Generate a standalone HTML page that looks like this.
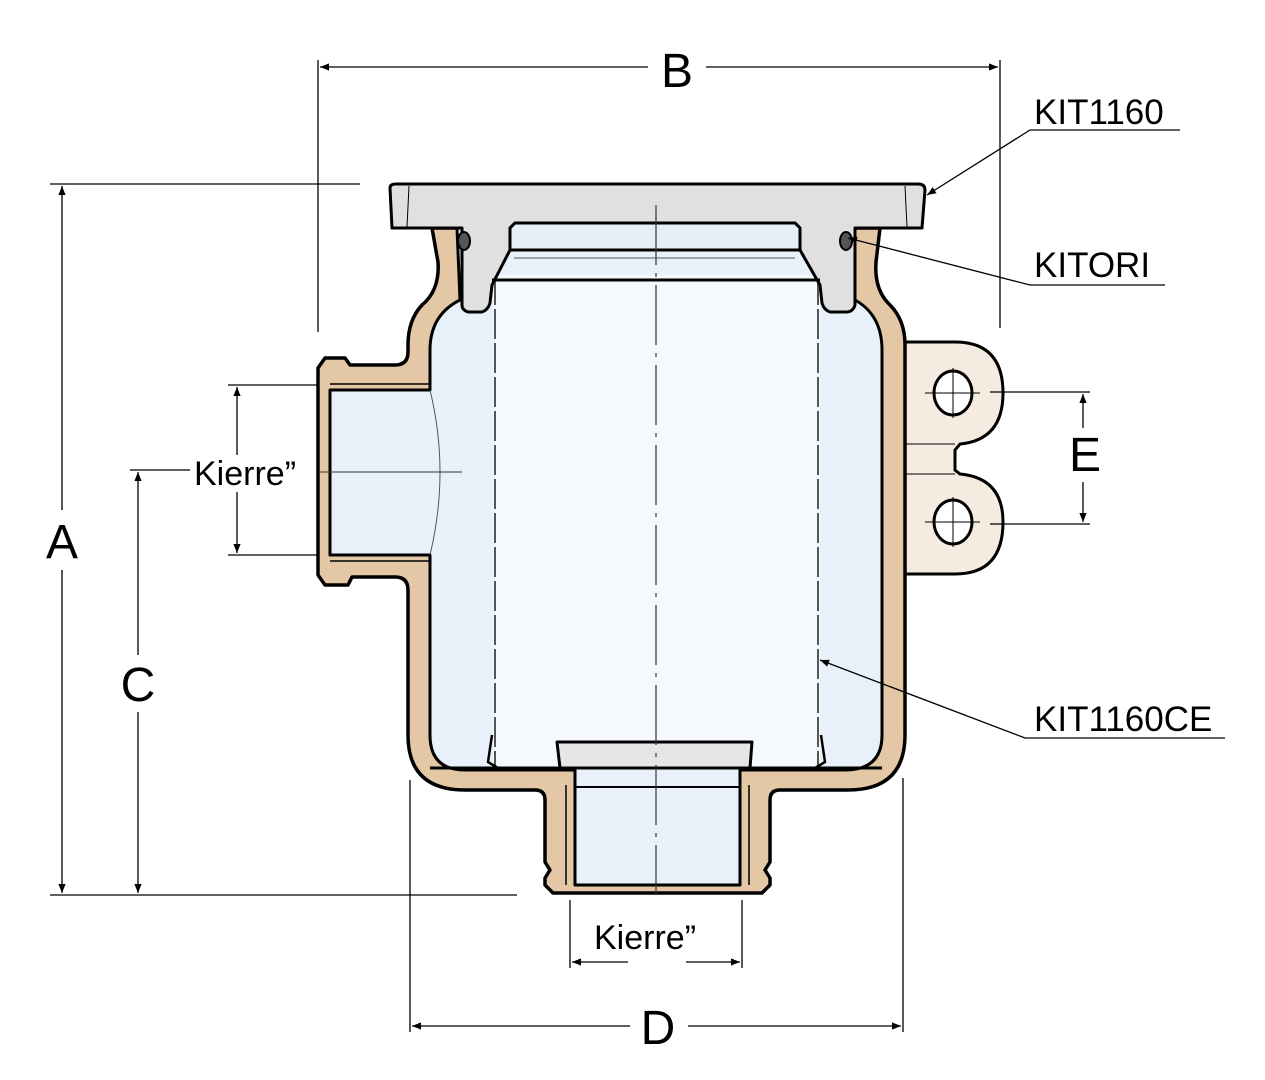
<!DOCTYPE html>
<html><head><style>body{margin:0;background:#fff}svg{display:block}</style></head><body>
<svg width="1265" height="1080" viewBox="0 0 1265 1080" xmlns="http://www.w3.org/2000/svg" font-family="Liberation Sans, sans-serif">
<defs>
<marker id="ar" viewBox="0 0 10 10" refX="10" refY="5" markerWidth="16" markerHeight="9" orient="auto-start-reverse" markerUnits="userSpaceOnUse"><path d="M0,1 L10,5 L0,9 Z" fill="#000"/></marker>
</defs>
<!-- ears -->
<path d="M905,342 L955,342 Q1003,342 1003,393 Q1003,440 960,444 L955,450 L955,470 L960,474 Q1003,478 1003,522 Q1003,574 955,574 L905,574 Z" fill="#f6ebe0" stroke="#000" stroke-width="3"/>
<line x1="905" y1="444" x2="955" y2="444" stroke="#000" stroke-width="1"/>
<line x1="905" y1="474" x2="955" y2="474" stroke="#000" stroke-width="1"/>
<ellipse cx="953" cy="393" rx="19" ry="22" fill="#fff" stroke="#000" stroke-width="3"/>
<ellipse cx="953" cy="522" rx="19" ry="22" fill="#fff" stroke="#000" stroke-width="3"/>
<path d="M925,393H980M953,368V418M925,522H980M953,497V547" stroke="#000" stroke-width="1"/>
<!-- body outer -->
<path d="M432,228 L457,228 L460,228 L855,228 L880,228 L876,262 Q874,290 890,305 Q905,320 905,345 L905,735 Q905,790 848,790 L780,790 Q770,790 770,800 L770,862 L765,870 L770,878 L770,885 L762,893 L553,893 L545,885 L545,878 L550,870 L545,862 L545,800 Q545,790 535,790 L465,790 Q408,790 408,735 L408,590 Q408,577 395,577 L352,577 L348,585 L325,585 L318,575 L318,368 L325,358 L345,358 L350,365 L395,365 Q408,365 408,352 L408,345 Q408,320 422,305 Q440,290 438,262 Z" fill="#e4c8a6" stroke="#000" stroke-width="3.5" stroke-linejoin="round"/>
<!-- inner cavity -->
<path d="M457,228 L855,228 L855,300 Q882,315 882,350 L882,735 Q882,770 845,770 L740,770 L740,885 L575,885 L575,770 L465,770 Q430,770 430,735 L430,555 L330,555 L330,390 L430,390 L430,350 Q430,315 460,300 Z" fill="#e8f1f9" stroke="#000" stroke-width="3" stroke-linejoin="round"/>
<path d="M430,390 Q450,472 430,555" fill="none" stroke="#555" stroke-width="1"/>
<line x1="330" y1="384" x2="430" y2="384" stroke="#000" stroke-width="1.5"/>
<line x1="330" y1="561" x2="430" y2="561" stroke="#000" stroke-width="1.5"/>
<line x1="566" y1="785" x2="566" y2="885" stroke="#000" stroke-width="1.5"/>
<line x1="749" y1="785" x2="749" y2="885" stroke="#000" stroke-width="1.5"/>
<line x1="575" y1="787" x2="740" y2="787" stroke="#000" stroke-width="2"/>
<!-- cartridge -->
<rect x="493" y="275" width="327" height="493" fill="#f5f9fd"/>
<line x1="495" y1="275" x2="495" y2="765" stroke="#555" stroke-width="2" stroke-dasharray="30 4"/>
<line x1="818" y1="275" x2="818" y2="765" stroke="#555" stroke-width="2" stroke-dasharray="30 4"/>
<path d="M492,735 L488,762 L498,768 M821,735 L825,762 L815,768" fill="none" stroke="#000" stroke-width="2.5"/>
<line x1="430" y1="768" x2="882" y2="768" stroke="#000" stroke-width="3"/>
<path d="M560,768 L557,742 L752,742 L750,768 Z" fill="#e6e6e6" stroke="#000" stroke-width="3" stroke-linejoin="round"/>
<!-- lid -->
<path d="M390,188 Q390,184 396,184 L918,184 Q925,184 925,190 L922,228 L855,228 L855,305 Q853,312 846,312 L830,312 Q824,310 822,303 L820,285 L800,250 L800,228 L795,223 L515,223 L510,228 L510,250 L492,285 L490,303 Q488,310 482,312 L468,312 Q462,310 462,305 L462,228 L392,228 Z" fill="#e0e0e0" stroke="#000" stroke-width="3" stroke-linejoin="round"/>
<path d="M409,186 L407,227 M905,186 L907,227" stroke="#000" stroke-width="1"/>
<path d="M510,228 L510,250 L800,250 L800,228 L795,223 L515,223 Z" fill="#e6eff8" stroke="#000" stroke-width="3" stroke-linejoin="round"/>
<line x1="514" y1="258" x2="795" y2="258" stroke="#555" stroke-width="1"/>
<line x1="492" y1="280" x2="820" y2="280" stroke="#000" stroke-width="3"/>
<ellipse cx="464" cy="241" rx="6" ry="9" fill="#555" stroke="#000" stroke-width="2"/>
<ellipse cx="846" cy="241" rx="6" ry="9" fill="#555" stroke="#000" stroke-width="2"/>
<!-- center line -->
<line x1="656" y1="205" x2="656" y2="895" stroke="#333" stroke-width="1.2" stroke-dasharray="60 8 4 8"/>
<line x1="320" y1="472" x2="462" y2="472" stroke="#333" stroke-width="1"/>
<!-- dimension lines -->
<g stroke="#000" stroke-width="1.3" fill="none">
<line x1="318" y1="60" x2="318" y2="332"/><line x1="1000" y1="60" x2="1000" y2="328"/>
<line x1="320" y1="67" x2="648" y2="67" marker-start="url(#ar)"/><line x1="706" y1="67" x2="998" y2="67" marker-end="url(#ar)"/>
<line x1="50" y1="184" x2="360" y2="184"/><line x1="50" y1="895" x2="517" y2="895"/>
<line x1="62" y1="186" x2="62" y2="510" marker-start="url(#ar)"/><line x1="62" y1="570" x2="62" y2="893" marker-end="url(#ar)"/>
<line x1="130" y1="470" x2="190" y2="470"/>
<line x1="138" y1="472" x2="138" y2="655" marker-start="url(#ar)"/><line x1="138" y1="712" x2="138" y2="893" marker-end="url(#ar)"/>
<line x1="228" y1="385" x2="318" y2="385"/><line x1="228" y1="555" x2="318" y2="555"/>
<line x1="237" y1="387" x2="237" y2="455" marker-start="url(#ar)"/><line x1="237" y1="492" x2="237" y2="553" marker-end="url(#ar)"/>
<line x1="990" y1="392" x2="1090" y2="392"/><line x1="990" y1="524" x2="1090" y2="524"/>
<line x1="1083" y1="394" x2="1083" y2="428" marker-start="url(#ar)"/><line x1="1083" y1="482" x2="1083" y2="522" marker-end="url(#ar)"/>
<line x1="410" y1="780" x2="410" y2="1032"/><line x1="903" y1="778" x2="903" y2="1032"/>
<line x1="412" y1="1026" x2="630" y2="1026" marker-start="url(#ar)"/><line x1="688" y1="1026" x2="901" y2="1026" marker-end="url(#ar)"/>
<line x1="570" y1="900" x2="570" y2="968"/><line x1="742" y1="900" x2="742" y2="968"/>
<line x1="572" y1="962" x2="628" y2="962" marker-start="url(#ar)"/><line x1="686" y1="962" x2="740" y2="962" marker-end="url(#ar)"/>
<!-- leaders -->
<polyline points="1180,130 1030,130 927,195" marker-end="url(#ar)"/>
<polyline points="1165,285 1030,285 848,238" marker-end="url(#ar)"/>
<polyline points="1225,738 1025,738 820,660" marker-end="url(#ar)"/>
</g>
<g font-size="48" text-anchor="middle" fill="#000">
<text x="677" y="87">B</text><text x="62" y="558">A</text><text x="138" y="701">C</text>
<text x="1085" y="471">E</text><text x="658" y="1044">D</text>
</g>
<g font-size="34" fill="#000">
<text x="194" y="485">Kierre”</text><text x="594" y="949">Kierre”</text>
</g>
<g font-size="35" fill="#000">
<text x="1034" y="124">KIT1160</text><text x="1034" y="277">KITORI</text><text x="1034" y="731">KIT1160CE</text>
</g>
</svg>
</body></html>
